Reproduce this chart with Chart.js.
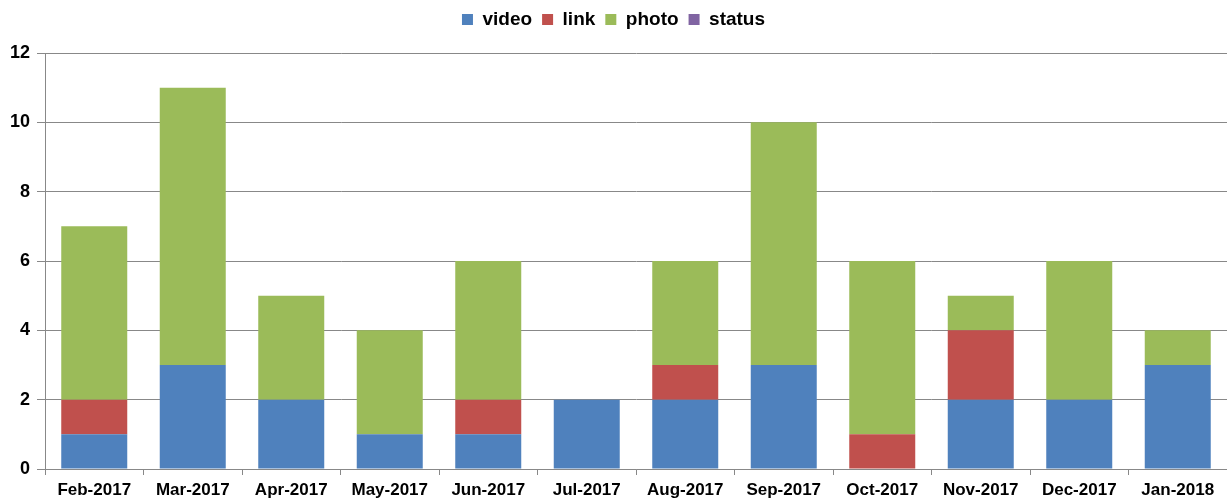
<!DOCTYPE html>
<html>
<head>
<meta charset="utf-8">
<script src="https://cdn.jsdelivr.net/npm/chart.js@4"></script>
<style>
  html, body { margin: 0; padding: 0; background: #fff; }
  .chart-container { width: 1227px; height: 502px; }
</style>
</head>
<body>
<div class="chart-container"><canvas id="chart"></canvas></div>
<script>
const months = ['Feb-2017', 'Mar-2017', 'Apr-2017', 'May-2017', 'Jun-2017', 'Jul-2017',
  'Aug-2017', 'Sep-2017', 'Oct-2017', 'Nov-2017', 'Dec-2017', 'Jan-2018'];
const video = [1, 3, 2, 1, 1, 2, 2, 3, 0, 2, 2, 3];
const link = [1, 0, 0, 0, 1, 0, 1, 0, 1, 2, 0, 0];
const photo = [5, 8, 3, 3, 4, 0, 3, 7, 5, 1, 4, 1];
const status = [0, 0, 0, 0, 0, 0, 0, 0, 0, 0, 0, 0];

const font = 'Liberation Sans';

// extra space under the legend
const legendGap = {
  id: 'legendGap',
  beforeInit(chart) {
    const fit = chart.legend.fit;
    chart.legend.fit = function () {
      fit.bind(chart.legend)();
      this.height += 14;
    };
  }
};

const ctx = document.getElementById('chart').getContext('2d');
new Chart(ctx, {
  type: 'bar',
  data: {
    labels: months,
    datasets: [
      { label: 'video', data: video, backgroundColor: '#4f81bd' },
      { label: 'link', data: link, backgroundColor: '#c0504d' },
      { label: 'photo', data: photo, backgroundColor: '#9bbb59' },
      { label: 'status', data: status, backgroundColor: '#8064a2' },
    ]
  },
  plugins: [legendGap],
  options: {
    responsive: true,
    maintainAspectRatio: false,
    animation: false,
    categoryPercentage: 1,
    barPercentage: 0.67,
    layout: { padding: 0 },
    scales: {
      x: {
        stacked: true,
        afterFit(scale) { scale.height = 33; },
        grid: { drawOnChartArea: false, drawTicks: true, tickLength: 6, color: '#888' },
        border: { color: '#888', width: 1 },
        ticks: { color: '#000', font: { family: font, size: 17, weight: 'bold' }, maxRotation: 0, padding: 5 },
      },
      y: {
        stacked: true,
        min: 0,
        max: 12,
        afterFit(scale) { scale.width = 45; },
        ticks: { stepSize: 2, color: '#000', font: { family: font, size: 18, weight: 'bold' }, padding: 7 },
        grid: { color: '#888', tickLength: 8 },
        border: { color: '#888', width: 1 },
      },
    },
    plugins: {
      legend: {
        position: 'top',
        labels: {
          boxWidth: 11,
          boxHeight: 11,
          color: '#000',
          padding: 10,
          font: { family: font, size: 19, weight: 'bold' },
        },
      },
      tooltip: { enabled: false },
    },
  },
});
</script>
</body>
</html>
